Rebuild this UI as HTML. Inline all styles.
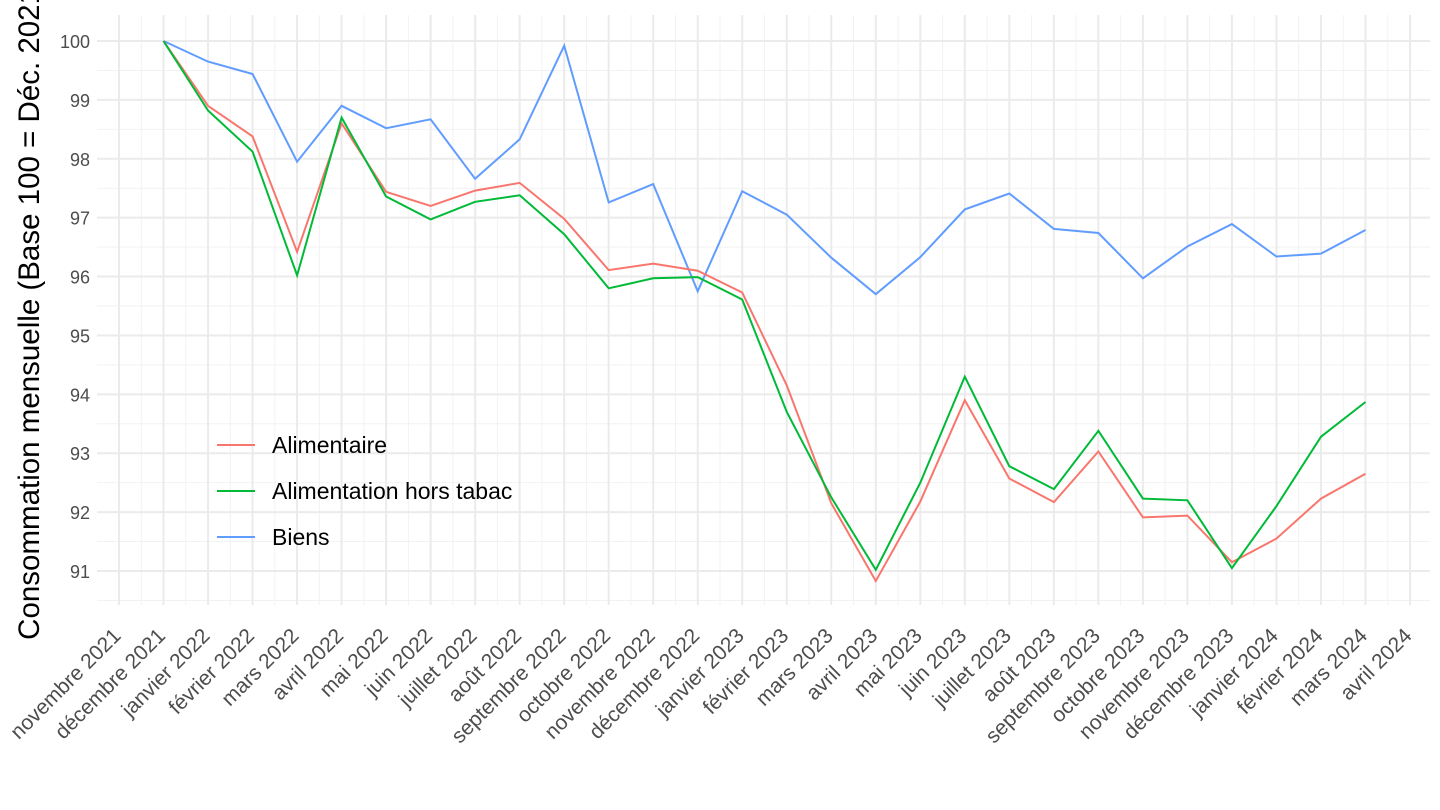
<!DOCTYPE html>
<html><head><meta charset="utf-8"><style>
body{margin:0;background:#fff;}
svg{display:block;font-family:"Liberation Sans",sans-serif;}
</style></head><body>
<svg id="c" width="1440" height="810" xmlns="http://www.w3.org/2000/svg"></svg>
<script>
const s=document.getElementById('c');
const Y=v=>41+(100-v)*530/9;
const X=i=>119+i*44.517;
let h='';
const L=97,R=1430,T=15,B=605;
for(let v=90.5;v<=100.5;v+=1){const y=Y(v);if(y>=T&&y<=B)h+=`<line x1="${L}" x2="${R}" y1="${y}" y2="${y}" stroke="#f2f2f2" stroke-width="1"/>`;}
for(let i=-0.5;i<=29.5;i+=1){const x=X(i);if(x>=L&&x<=R)h+=`<line x1="${x}" x2="${x}" y1="${T}" y2="${B}" stroke="#f2f2f2" stroke-width="1"/>`;}
for(let v=91;v<=100;v++){const y=Y(v);h+=`<line x1="${L}" x2="${R}" y1="${y}" y2="${y}" stroke="#ebebeb" stroke-width="2"/><text x="90" y="${y+7}" text-anchor="end" font-size="18" fill="#4d4d4d">${v}</text>`;}
const m=["novembre 2021","décembre 2021","janvier 2022","février 2022","mars 2022","avril 2022","mai 2022","juin 2022","juillet 2022","août 2022","septembre 2022","octobre 2022","novembre 2022","décembre 2022","janvier 2023","février 2023","mars 2023","avril 2023","mai 2023","juin 2023","juillet 2023","août 2023","septembre 2023","octobre 2023","novembre 2023","décembre 2023","janvier 2024","février 2024","mars 2024","avril 2024"];
m.forEach((t,i)=>{const x=X(i);h+=`<line x1="${x}" x2="${x}" y1="${T}" y2="${B}" stroke="#ebebeb" stroke-width="2"/><text transform="translate(${x+3},${637}) rotate(-45)" text-anchor="end" font-size="21" fill="#4d4d4d">${t}</text>`;});
const d={
"#619CFF":[100,99.65,99.44,97.95,98.9,98.52,98.67,97.66,98.33,99.92,97.26,97.57,95.75,97.45,97.05,96.32,95.70,96.33,97.14,97.41,96.81,96.74,95.97,96.51,96.89,96.34,96.39,96.79],
"#F8766D":[100,98.9,98.38,96.42,98.6,97.44,97.2,97.46,97.59,96.98,96.11,96.22,96.1,95.73,94.15,92.15,90.83,92.18,93.9,92.57,92.17,93.03,91.91,91.94,91.15,91.55,92.23,92.65],
"#00BA38":[100,98.82,98.12,96.02,98.7,97.36,96.97,97.27,97.38,96.72,95.8,95.97,95.99,95.61,93.7,92.25,91.02,92.5,94.3,92.78,92.39,93.38,92.23,92.2,91.05,92.1,93.28,93.87]};
for(const c in d){h+=`<polyline fill="none" stroke="${c}" stroke-width="2" points="${d[c].map((v,i)=>X(i+1).toFixed(1)+','+Y(v).toFixed(1)).join(' ')}"/>`;}
[["#F8766D","Alimentaire",445],["#00BA38","Alimentation hors tabac",491],["#619CFF","Biens",537]].forEach(([c,t,y])=>{h+=`<line x1="217" x2="255" y1="${y}" y2="${y}" stroke="${c}" stroke-width="2"/><text x="272" y="${y+8}" font-size="23" fill="#000">${t}</text>`;});
h+=`<text transform="translate(39,309) rotate(-90)" text-anchor="middle" font-size="29.5" fill="#000">Consommation mensuelle (Base 100 = Déc. 2021)</text>`;
s.innerHTML=h;
</script>
</body></html>
